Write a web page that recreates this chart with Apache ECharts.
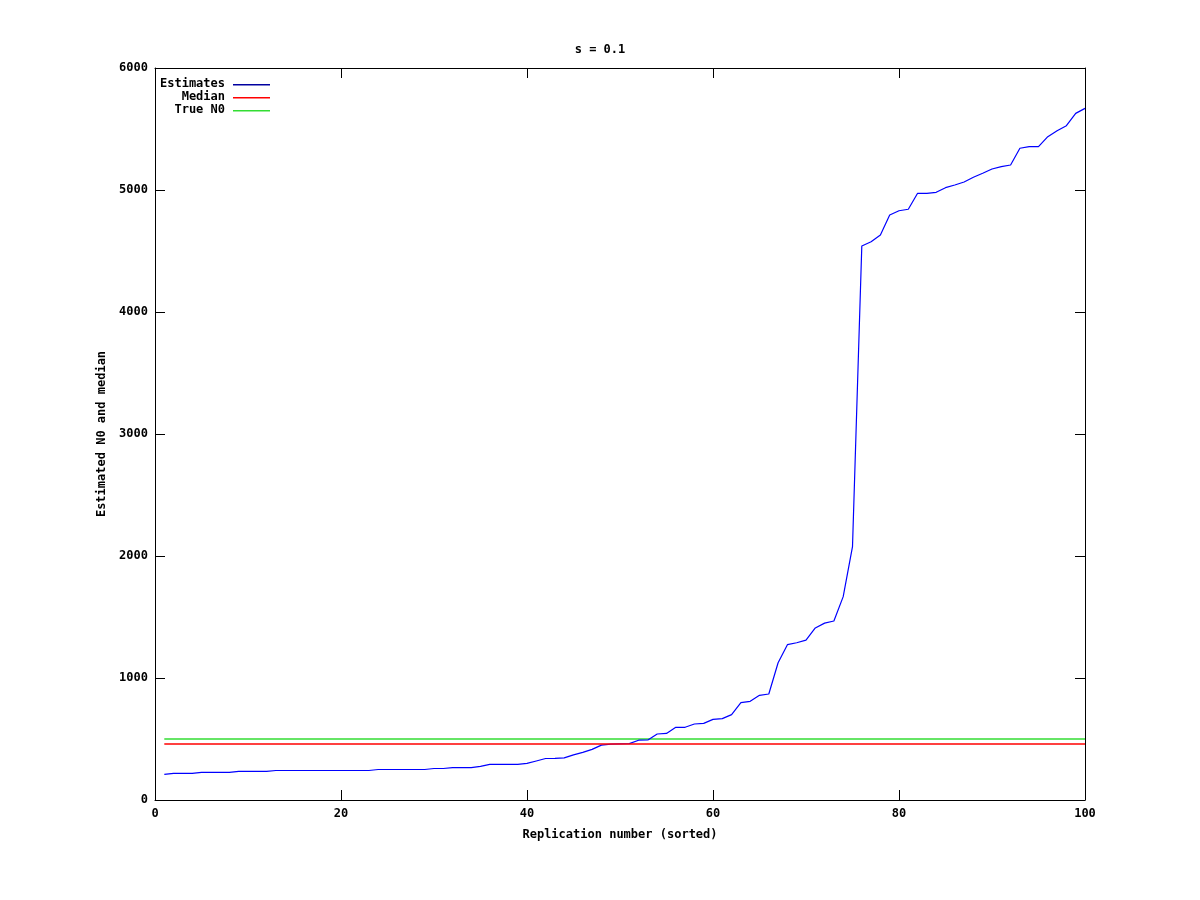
<!DOCTYPE html>
<html>
<head>
<meta charset="utf-8">
<script src="https://cdn.jsdelivr.net/npm/echarts@6/dist/echarts.min.js"></script>
<style>html,body{margin:0;padding:0;background:#fff;}#c{width:1200px;height:900px;}</style>
</head>
<body>
<div id="c"></div>
<script>
const titleText = 's = 0.1';
const xName = 'Replication number (sorted)';
const yName = 'Estimated N0 and median';
const seriesNames = ['Estimates', 'Median', 'True N0'];
const replication = [];
for (let i = 1; i <= 100; i++) replication.push(i);
const estimates = [
  210, 218, 218, 218, 226, 226, 226, 226, 234, 234,
  234, 234, 242, 242, 242, 242, 242, 242, 242, 242,
  242, 242, 242, 250, 250, 250, 250, 250, 250, 258,
  258, 266, 266, 266, 275, 292, 292, 292, 292, 300,
  320, 340, 342, 345, 370, 390, 415, 450, 458, 460,
  462, 490, 492, 541, 546, 596, 596, 623, 628, 661,
  667, 700, 798, 809, 858, 869, 1125, 1273, 1289, 1311,
  1410, 1450, 1467, 1667, 2076, 4541, 4576, 4631, 4795, 4830,
  4842, 4973, 4973, 4981, 5019, 5041, 5066, 5104, 5137, 5172,
  5191, 5205, 5342, 5355, 5355, 5437, 5486, 5527, 5628, 5669
];
const medianValue = 460;
const trueN0 = 500;
const medianX = [1, 100];

const lineColors = ['#0000ff', '#ff0000', '#33dd33'];
const legendColors = ['#0000a0', '#ff0000', '#33dd33'];
const font = '"DejaVu Sans Mono", monospace';

const chart = echarts.init(document.getElementById('c'));
const legendGraphics = [];
seriesNames.forEach((n, i) => {
  const y = 84 + i * 13;
  legendGraphics.push({
    id: 'lt' + i, type: 'text', x: 225, y: y,
    style: { text: n, fill: '#000', font: 'bold 12px ' + font, align: 'right', verticalAlign: 'middle' }
  });
  legendGraphics.push({
    id: 'll' + i, type: 'rect', shape: { x: 233, y: y, width: 37, height: 1.4 },
    style: { fill: legendColors[i] }
  });
});

const axisLabelStyle = { color: '#000', fontFamily: font, fontSize: 12, fontWeight: 'bold' };
const plain = v => String(v);
chart.setOption({
  animation: false,
  backgroundColor: '#fff',
  title: {
    text: titleText, left: 'center', top: 39,
    textStyle: { fontFamily: font, fontSize: 12, fontWeight: 'bold', color: '#000' }
  },
  grid: { left: 155, right: 115, top: 68, bottom: 100 },
  xAxis: [{
    type: 'value', min: 0, max: 100, interval: 20,
    name: xName, nameLocation: 'middle', nameGap: 29,
    nameTextStyle: axisLabelStyle,
    axisLine: { show: true, onZero: false, lineStyle: { color: '#000', width: 1 } },
    axisTick: { show: true, inside: true, length: 10, lineStyle: { color: '#000' } },
    axisLabel: Object.assign({ margin: 8, formatter: plain }, axisLabelStyle),
    splitLine: { show: false }
  }, {
    type: 'value', min: 0, max: 100, interval: 20, position: 'top',
    axisLine: { show: true, onZero: false, lineStyle: { color: '#000', width: 1 } },
    axisTick: { show: true, inside: true, length: 10, lineStyle: { color: '#000' } },
    axisLabel: { show: false }, splitLine: { show: false }
  }],
  yAxis: [{
    type: 'value', min: 0, max: 6000, interval: 1000,
    name: yName, nameLocation: 'middle', nameGap: 36, nameRotate: 90,
    nameTextStyle: axisLabelStyle,
    axisLine: { show: true, onZero: false, lineStyle: { color: '#000', width: 1 } },
    axisTick: { show: true, inside: true, length: 10, lineStyle: { color: '#000' } },
    axisLabel: Object.assign({ margin: 7, formatter: plain }, axisLabelStyle),
    splitLine: { show: false }
  }, {
    type: 'value', min: 0, max: 6000, interval: 1000, position: 'right',
    axisLine: { show: true, onZero: false, lineStyle: { color: '#000', width: 1 } },
    axisTick: { show: true, inside: true, length: 10, lineStyle: { color: '#000' } },
    axisLabel: { show: false }, splitLine: { show: false }
  }],
  series: [{
    name: seriesNames[0], type: 'line', showSymbol: false, symbol: 'none',
    data: replication.map((x, i) => [x, estimates[i]]),
    lineStyle: { color: lineColors[0], width: 1.2 }, itemStyle: { color: lineColors[0] }, z: 3
  }, {
    name: seriesNames[1], type: 'line', showSymbol: false, symbol: 'none',
    data: medianX.map(x => [x, medianValue]),
    lineStyle: { color: lineColors[1], width: 1.5 }, itemStyle: { color: lineColors[1] }, z: 4
  }, {
    name: seriesNames[2], type: 'line', showSymbol: false, symbol: 'none',
    data: medianX.map(x => [x, trueN0]),
    lineStyle: { color: lineColors[2], width: 1.5 }, itemStyle: { color: lineColors[2] }, z: 2
  }],
  graphic: legendGraphics
});
</script>
</body>
</html>
